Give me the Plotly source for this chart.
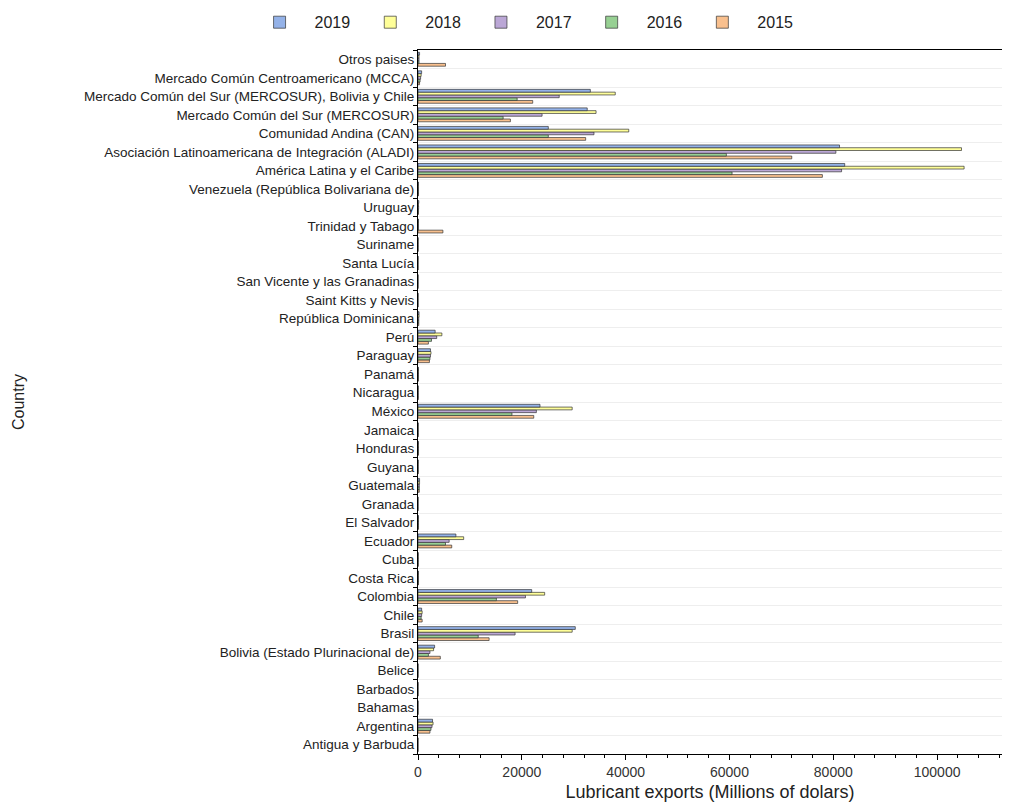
import plotly.graph_objects as go

categories = [
    "Otros paises",
    "Mercado Común Centroamericano (MCCA)",
    "Mercado Común del Sur (MERCOSUR), Bolivia y Chile",
    "Mercado Común del Sur (MERCOSUR)",
    "Comunidad Andina (CAN)",
    "Asociación Latinoamericana de Integración (ALADI)",
    "América Latina y el Caribe",
    "Venezuela (República Bolivariana de)",
    "Uruguay",
    "Trinidad y Tabago",
    "Suriname",
    "Santa Lucía",
    "San Vicente y las Granadinas",
    "Saint Kitts y Nevis",
    "República Dominicana",
    "Perú",
    "Paraguay",
    "Panamá",
    "Nicaragua",
    "México",
    "Jamaica",
    "Honduras",
    "Guyana",
    "Guatemala",
    "Granada",
    "El Salvador",
    "Ecuador",
    "Cuba",
    "Costa Rica",
    "Colombia",
    "Chile",
    "Brasil",
    "Bolivia (Estado Plurinacional de)",
    "Belice",
    "Barbados",
    "Bahamas",
    "Argentina",
    "Antigua y Barbuda",
]

v2019 = [300, 700, 33200, 32600, 25100, 81200, 82200, 100, 150, 100, 30, 20, 20, 20, 200,
         3300, 2400, 100, 50, 23500, 50, 100, 50, 300, 20, 100, 7300, 50, 100, 21900,
         700, 30300, 3200, 20, 20, 20, 2800, 10]
v2018 = [200, 600, 38000, 34300, 40600, 104700, 105200, 100, 100, 100, 30, 20, 20, 20, 200,
         4600, 2500, 100, 50, 29700, 50, 100, 50, 300, 20, 100, 8800, 50, 100, 24400,
         800, 29700, 3000, 20, 20, 20, 2900, 10]
v2017 = [200, 500, 27200, 23900, 33900, 80500, 81600, 100, 120, 100, 30, 20, 20, 20, 150,
         3600, 2400, 100, 50, 22800, 50, 100, 50, 250, 20, 100, 6000, 50, 100, 20700,
         700, 18700, 2300, 20, 20, 20, 2700, 10]
v2016 = [200, 400, 19100, 16400, 25100, 59400, 60500, 100, 100, 100, 30, 20, 20, 20, 150,
         2600, 2300, 100, 50, 18100, 50, 100, 50, 250, 20, 100, 5300, 50, 100, 15100,
         600, 11600, 2000, 20, 20, 20, 2500, 10]
v2015 = [5300, 300, 22100, 17800, 32300, 72000, 77900, 100, 90, 4800, 30, 20, 20, 20, 150,
         2000, 2200, 100, 50, 22300, 50, 100, 50, 250, 20, 100, 6500, 50, 100, 19200,
         800, 13700, 4300, 20, 20, 20, 2300, 10]

years = ["2015", "2016", "2017", "2018", "2019"]
series = [v2015, v2016, v2017, v2018, v2019]
colors = ["#F9C08E", "#97D093", "#BBA7D6", "#FFFF99", "#94B2E8"]

fig = go.Figure()
for yr, vals, col in zip(years, series, colors):
    fig.add_trace(go.Bar(
        x=vals, y=categories, orientation="h", name=yr,
        marker=dict(color=col, line=dict(color="#333333", width=0.7)),
    ))

fig.update_layout(
    width=994, height=794,
    margin=dict(l=410, r=0, t=42, b=48),
    paper_bgcolor="white", plot_bgcolor="white",
    barmode="group", bargap=0.25, bargroupgap=0.0,
    font=dict(family="Liberation Sans, Arial, sans-serif", color="#222222"),
    legend=dict(
        orientation="h", traceorder="reversed",
        x=0.238, xref="container", xanchor="left",
        y=0.982, yref="container", yanchor="middle",
        font=dict(size=16, color="#222222"),
        itemwidth=60, bgcolor="rgba(0,0,0,0)",
    ),
    showlegend=True,
    annotations=[dict(
        text="Country", textangle=-90, xref="paper", yref="paper",
        x=-(410 - 10) / 584, y=0.5, xanchor="center", yanchor="middle",
        showarrow=False, font=dict(size=16, color="#222222"),
    )],
)

fig.update_xaxes(
    range=[0, 112500], dtick=20000, tickformat="d",
    showline=True, linecolor="black", linewidth=1.2, mirror=True,
    ticks="outside", ticklen=5, tickcolor="black",
    minor=dict(dtick=4000, ticks="outside", ticklen=3, tickcolor="black"),
    showgrid=False, zeroline=False,
    tickfont=dict(size=14, color="#333333"),
    title=dict(text="Lubricant exports (Millions of dolars)", font=dict(size=18, color="#222222"), standoff=6),
)
fig.update_yaxes(
    categoryorder="array", categoryarray=categories[::-1],
    showline=True, linecolor="black", linewidth=1.2,
    ticks="outside", ticklen=4, tickcolor="black", tickson="boundaries",
    showgrid=True, gridcolor="#EEEEEE", gridwidth=1,
    tickfont=dict(size=13.5, color="#222222"),
)

fig.write_html("out.html")
